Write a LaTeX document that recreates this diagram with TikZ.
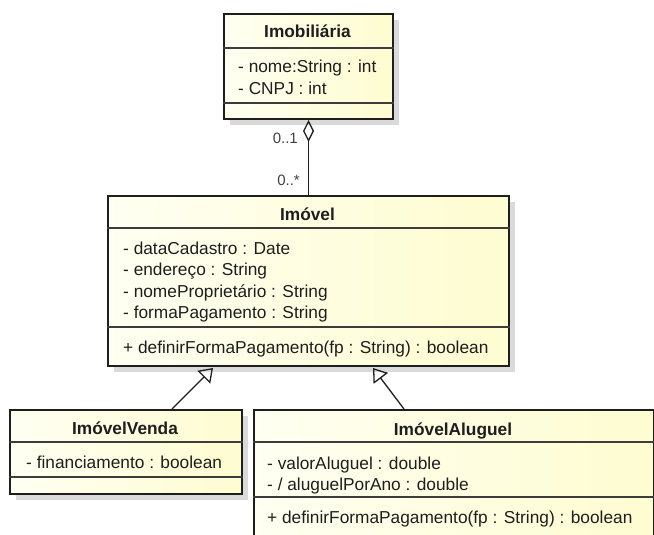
\documentclass[tikz,border=0pt]{standalone}
\usepackage{fontspec}
\setmainfont{Liberation Sans}
\usetikzlibrary{arrows.meta,calc}
\definecolor{boxL}{RGB}{255,255,242}
\definecolor{boxR}{RGB}{254,252,208}
\definecolor{edgec}{RGB}{30,30,30}
\definecolor{sepc}{RGB}{60,60,60}
\definecolor{shadowc}{RGB}{218,218,218}
\definecolor{txtc}{RGB}{30,30,30}
\tikzset{
 umlbox/.style={draw=edgec, line width=2pt, rectangle, inner sep=0pt, left color=boxL, right color=boxR, anchor=north west},
 shadowbox/.style={fill=shadowc, draw=none, rectangle, inner sep=0pt, anchor=north west},
 sepline/.style={draw=sepc, line width=1.1pt},
 ttl/.style={font=\fontsize{17.3}{21.5}\selectfont\bfseries, anchor=base, inner sep=0pt, text=txtc},
 attr/.style={font=\fontsize{17.3}{21.5}\selectfont, anchor=base west, inner sep=0pt, text=txtc},
 mult/.style={font=\fontsize{15}{18}\selectfont, anchor=base east, inner sep=0pt, text=black!75},
 gen/.style={draw=edgec, line width=1.3pt, -{Triangle[open,length=13pt,width=18pt]}},
 agg/.style={draw=edgec, line width=1.3pt, -{Diamond[open,length=22pt,width=11pt]}},
}
\begin{document}
\begin{tikzpicture}[x=1pt,y=-1pt]
\useasboundingbox (0,0) rectangle (654,535);
\clip (0,0) rectangle (654,535);
% shadows
\node[shadowbox, minimum width=169pt, minimum height=105pt] (shimob) at (230,20) {};
\node[shadowbox, minimum width=401pt, minimum height=170pt] (shimovel) at (114,202) {};
\node[shadowbox, minimum width=232pt, minimum height=84pt] (shvenda) at (16,416) {};
\node[shadowbox, minimum width=400pt, minimum height=131pt] (shaluguel) at (260,416) {};
% boxes
\node[umlbox, minimum width=169pt, minimum height=105pt] (imob) at (223,13) {};
\node[umlbox, minimum width=401pt, minimum height=170pt] (imovel) at (107,195) {};
\node[umlbox, minimum width=232pt, minimum height=84pt] (venda) at (9,409) {};
\node[umlbox, minimum width=400pt, minimum height=131pt] (aluguel) at (253,409) {};
% separators
\draw[sepline] ($(imob.north west)+(0,35)$) -- ($(imob.north east)+(0,35)$);
\draw[sepline] ($(imob.north west)+(0,90)$) -- ($(imob.north east)+(0,90)$);
\draw[sepline] ($(imovel.north west)+(0,33)$) -- ($(imovel.north east)+(0,33)$);
\draw[sepline] ($(imovel.north west)+(0,132)$) -- ($(imovel.north east)+(0,132)$);
\draw[sepline] ($(venda.north west)+(0,33)$) -- ($(venda.north east)+(0,33)$);
\draw[sepline] ($(venda.north west)+(0,68)$) -- ($(venda.north east)+(0,68)$);
\draw[sepline] ($(aluguel.north west)+(0,33)$) -- ($(aluguel.north east)+(0,33)$);
\draw[sepline] ($(aluguel.north west)+(0,88)$) -- ($(aluguel.north east)+(0,88)$);
% Imobiliaria
\node[ttl] (t1) at (307.5,38) {Imobiliária};
\node[attr] (a11) at (238,73) {- nome:String : int};
\node[attr] (a12) at (238,94.5) {- CNPJ : int};
% Imovel
\node[ttl] (t2) at (307.5,220) {Imóvel};
\node[attr] (a21) at (123,254) {- dataCadastro : Date};
\node[attr] (a22) at (123,275.5) {- endereço : String};
\node[attr] (a23) at (123,297) {- nomeProprietário : String};
\node[attr] (a24) at (123,318.5) {- formaPagamento : String};
\node[attr] (m21) at (123,353) {+ definirFormaPagamento(fp : String) : boolean};
% ImovelVenda
\node[ttl] (t3) at (125,434) {ImóvelVenda};
\node[attr] (a31) at (26,468) {- financiamento : boolean};
% ImovelAluguel
\node[ttl] (t4) at (453,435) {ImóvelAluguel};
\node[attr] (a41) at (267,469) {- valorAluguel : double};
\node[attr] (a42) at (267,490.5) {- / aluguelPorAno : double};
\node[attr] (m41) at (267,523) {+ definirFormaPagamento(fp : String) : boolean};
% connectors
\draw[agg] (imovel.north) -- (imob.south);
\node[mult] (mu1) at (298,143) {0..1};
\node[mult] (mu2) at (300,185) {0..*};
\draw[gen] ($(venda.north west)+(163,0)$) -- ($(imovel.south west)+(106,1)$);
\draw[gen] ($(aluguel.north west)+(151,0)$) -- ($(imovel.south west)+(266,1)$);
\end{tikzpicture}
\end{document}
